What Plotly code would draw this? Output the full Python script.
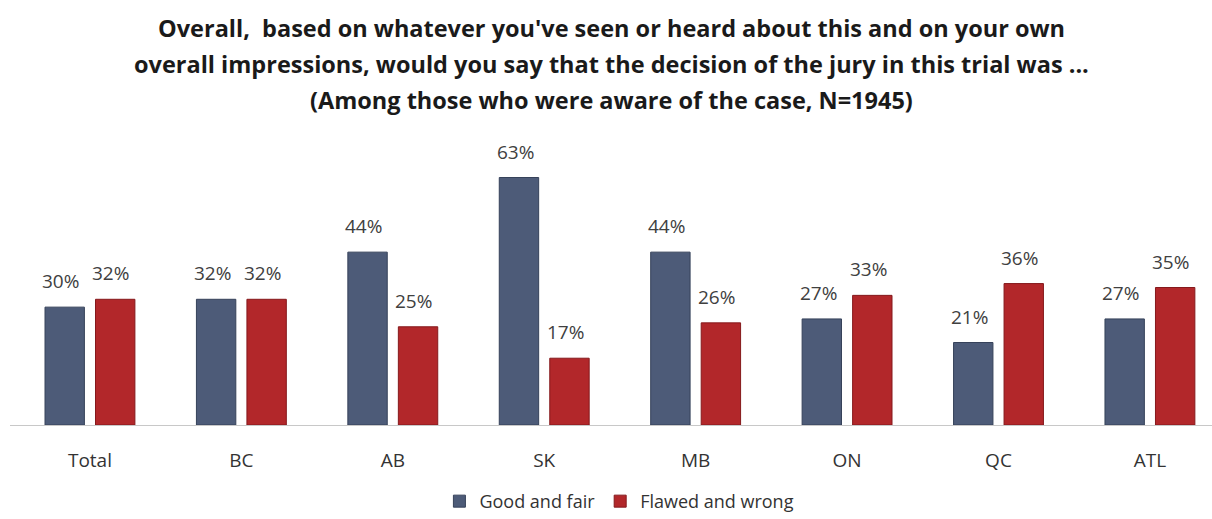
import plotly.graph_objects as go

categories = ["Total", "BC", "AB", "SK", "MB", "ON", "QC", "ATL"]
good_and_fair = [30, 32, 44, 63, 44, 27, 21, 27]
flawed_and_wrong = [32, 32, 25, 17, 26, 33, 36, 35]

title_lines = [
    "Overall,  based on whatever you've seen or heard about this and on your own",
    "overall impressions, would you say that the decision of the jury in this trial was ...",
    "(Among those who were aware of the case, N=1945)",
]

BLUE = "#4d5b78"
BLUE_EDGE = "#36425a"
RED = "#b2272a"
RED_EDGE = "#85191c"
FONT = "'Open Sans', Lato, sans-serif"

fig = go.Figure()
fig.add_bar(
    x=categories, y=good_and_fair, name="Good and fair",
    marker=dict(color=BLUE, line=dict(color=BLUE_EDGE, width=1)),
)
fig.add_bar(
    x=categories, y=flawed_and_wrong, name="Flawed and wrong",
    marker=dict(color=RED, line=dict(color=RED_EDGE, width=1)),
)

# value labels above each bar
for i, cat in enumerate(categories):
    for vals, dx in ((good_and_fair, -25), (flawed_and_wrong, 25)):
        fig.add_annotation(
            x=cat, y=vals[i], text=f"{vals[i]}%", showarrow=False,
            xshift=dx - 4, yshift=26, yanchor="middle",
            font=dict(family=FONT, size=19, color="#404040"),
        )

fig.update_layout(
    width=1212, height=519,
    margin=dict(l=10, r=0, t=150, b=94, autoexpand=False),
    paper_bgcolor="white", plot_bgcolor="white",
    barmode="group", bargap=0.333, bargroupgap=0.22,
    showlegend=True,
    legend=dict(
        orientation="h", x=0.507, xanchor="center", y=-0.278, yanchor="middle",
        font=dict(family=FONT, size=18, color="#333333"),
        itemwidth=30, traceorder="normal",
    ),
    xaxis=dict(
        range=[-0.528, 7.41], showline=True, linecolor="#c8c8c8", linewidth=1,
        ticks="", showgrid=False, ticklabelstandoff=18,
        tickfont=dict(family=FONT, size=19, color="#333333"),
    ),
    yaxis=dict(range=[0, 70], visible=False, showgrid=False, zeroline=False),
)

for k, line in enumerate(title_lines):
    fig.add_annotation(
        text=f"<b>{line}</b>", xref="paper", yref="paper",
        x=0.5, y=(425 - [28, 64, 100][k]) / 275, showarrow=False,
        xanchor="center", yanchor="middle",
        font=dict(family=FONT, size=23.5, color="#1a1a1a"),
    )

fig.write_html("out.html")
